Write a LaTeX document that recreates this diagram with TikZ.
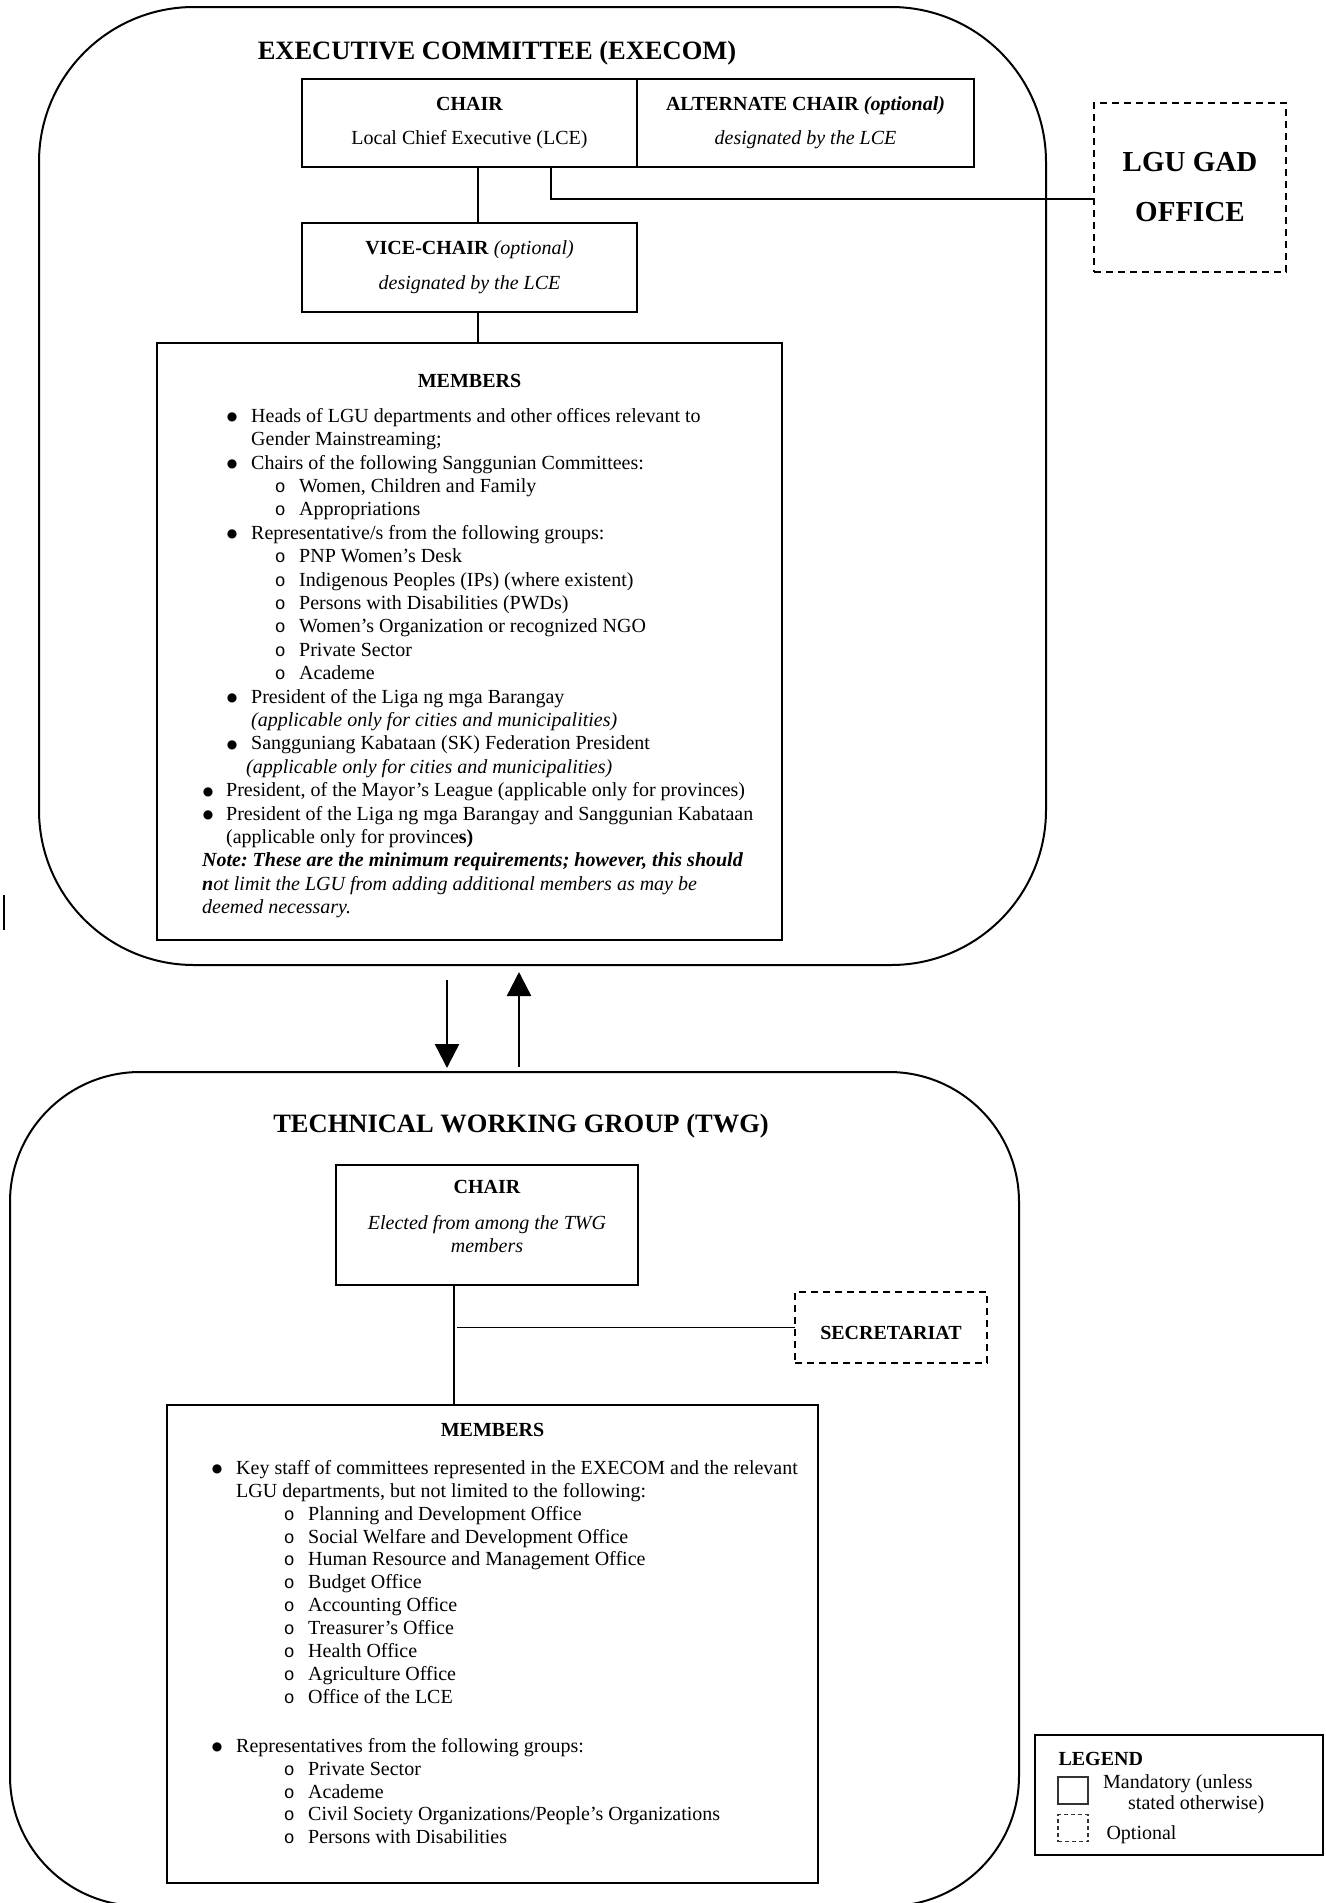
\documentclass[tikz,border=0pt]{standalone}
\usepackage{fontspec}
\setmainfont{Liberation Serif}
\setmonofont{Liberation Mono}
\newfontfamily\symfont{DejaVu Sans}
\usetikzlibrary{shapes, arrows.meta, positioning}
\frenchspacing

\newcommand{\bigdot}{\raisebox{1.5pt}{\symfont\fontsize{12}{12}\selectfont ●}}
\newcommand{\itemdot}[3]{\hspace*{#1}\makebox[0pt]{\bigdot}\hspace*{\dimexpr#2-#1\relax}#3}
\newcommand{\itemring}[3]{\hspace*{#1}\makebox[0pt]{\fontsize{18}{18}\selectfont\texttt{o}}\hspace*{\dimexpr#2-#1\relax}#3}

\begin{document}
\begin{tikzpicture}[x=1pt, y=-1pt,
font=\fontsize{20}{23}\selectfont,
frame/.style={rectangle, draw=black, line width=2pt, inner sep=0pt, outer sep=0pt},
block/.style={rectangle, draw=black, line width=2pt, align=center, inner sep=0pt, outer sep=0pt},
block-opt/.style={block, dash pattern=on 7pt off 5pt},
heading/.style={anchor=base, font=\fontsize{26.5}{30}\selectfont\bfseries},
list/.style={anchor=north west, align=left, inner sep=0pt},
key/.style={rectangle, draw=black!80, line width=1.2pt, minimum width=30pt, minimum height=27pt},
line/.style={draw, line width=1.8pt},
flow/.style={draw, line width=2.5pt, -{Triangle[length=24pt, width=24pt]}}
]
\useasboundingbox (0,0) rectangle (1325,1903);

\node[frame, rounded corners=155pt, minimum width=1007pt, minimum height=958pt] (execom) at (542.5,486) {};
\node[frame, rounded corners=130pt, minimum width=1009pt, minimum height=834pt] (twg) at (514.5,1489) {};

\node[heading] (execom-title) at (497,59) {EXECUTIVE COMMITTEE (EXECOM)};

\node[block, minimum width=335pt, minimum height=88pt] (chair) at (469.5,123)
  {\textbf{CHAIR}\\[11pt]Local Chief Executive (LCE)};
\node[block, minimum width=337pt, minimum height=88pt, right=0pt of chair] (alt-chair)
  {\textbf{ALTERNATE CHAIR \textit{(optional)}}\\[11pt]\textit{designated by the LCE}};
\node[block, minimum width=335pt, minimum height=89pt, below=56pt of chair] (vice-chair)
  {\textbf{VICE-CHAIR} \textit{(optional)}\\[12pt]\textit{designated by the LCE}};
\node[block-opt, minimum width=192pt, minimum height=169pt, font=\fontsize{29}{34}\selectfont\bfseries] (gad-office) at (1190,187.5)
  {LGU GAD\\[16pt]OFFICE};

\node[block, minimum width=625pt, minimum height=597pt, below=31pt of vice-chair] (execom-members) {};
\node[anchor=base, font=\fontsize{20}{23}\selectfont\bfseries] (execom-members-title) at (469.5,387) {MEMBERS};
\node[list, font=\fontsize{20}{23.4}\selectfont] (execom-list) at (202,408) {%
\itemdot{30pt}{49pt}{Heads of LGU departments and other offices relevant to}\\
\hspace*{49pt}Gender Mainstreaming;\\
\itemdot{30pt}{49pt}{Chairs of the following Sanggunian Committees:}\\
\itemring{78pt}{97pt}{Women, Children and Family}\\
\itemring{78pt}{97pt}{Appropriations}\\
\itemdot{30pt}{49pt}{Representative/s from the following groups:}\\
\itemring{78pt}{97pt}{PNP Women’s Desk}\\
\itemring{78pt}{97pt}{Indigenous Peoples (IPs) (where existent)}\\
\itemring{78pt}{97pt}{Persons with Disabilities (PWDs)}\\
\itemring{78pt}{97pt}{Women’s Organization or recognized NGO}\\
\itemring{78pt}{97pt}{Private Sector}\\
\itemring{78pt}{97pt}{Academe}\\
\itemdot{30pt}{49pt}{President of the Liga ng mga Barangay}\\
\hspace*{49pt}\textit{(applicable only for cities and municipalities)}\\
\itemdot{30pt}{49pt}{Sangguniang Kabataan (SK) Federation President}\\
\hspace*{44pt}\textit{(applicable only for cities and municipalities)}\\
\itemdot{6pt}{24pt}{President, of the Mayor’s League (applicable only for provinces)}\\
\itemdot{6pt}{24pt}{President of the Liga ng mga Barangay and Sanggunian Kabataan}\\
\hspace*{24pt}(applicable only for province\textbf{s)}\\
\textbf{\textit{Note: These are the minimum requirements; however, this should}}\\
\textit{\textbf{n}ot limit the LGU from adding additional members as may be}\\
\textit{deemed necessary.}};

\path[line] ([xshift=8.5pt]chair.south) -- ([xshift=8.5pt]vice-chair.north);
\path[line] ([xshift=8.5pt]vice-chair.south) -- ([xshift=8.5pt]execom-members.north);
\path[line] ([xshift=81.5pt]chair.south) |- ([yshift=-11.5pt]gad-office.west);

\draw[line width=2.5pt] (4,895) -- (4,930);

\coordinate (down-x) at (447,0);
\coordinate (up-x) at (519,0);
\path[flow, shorten <=15pt, shorten >=4pt] (execom.south -| down-x) -- (twg.north -| down-x);
\path[flow, shorten <=5pt, shorten >=7pt] (twg.north -| up-x) -- (execom.south -| up-x);

\node[heading] (twg-title) at (521,1132) {TECHNICAL WORKING GROUP (TWG)};

\node[block, minimum width=302pt, minimum height=120pt] (twg-chair) at (487,1225)
  {\textbf{CHAIR}\\[13pt]\textit{Elected from among the TWG}\\\textit{members}\rule[-17pt]{0pt}{17pt}};
\node[block-opt, minimum width=192pt, minimum height=71pt, font=\fontsize{20}{23}\selectfont\bfseries,
  text height=24pt, text depth=0pt] (secretariat) at (891,1327.5) {SECRETARIAT};
\node[block, minimum width=651pt, minimum height=478pt, below=120pt of twg-chair, xshift=5.5pt] (twg-members) {};
\node[anchor=base, font=\fontsize{20}{23}\selectfont\bfseries] (twg-members-title) at (492.5,1436) {MEMBERS};
\node[list, font=\fontsize{20}{22.9}\selectfont] (twg-list) at (200,1460) {%
\itemdot{17pt}{36pt}{Key staff of committees represented in the EXECOM and the relevant}\\
\hspace*{36pt}LGU departments, but not limited to the following:\\
\itemring{89pt}{108pt}{Planning and Development Office}\\
\itemring{89pt}{108pt}{Social Welfare and Development Office}\\
\itemring{89pt}{108pt}{Human Resource and Management Office}\\
\itemring{89pt}{108pt}{Budget Office}\\
\itemring{89pt}{108pt}{Accounting Office}\\
\itemring{89pt}{108pt}{Treasurer’s Office}\\
\itemring{89pt}{108pt}{Health Office}\\
\itemring{89pt}{108pt}{Agriculture Office}\\
\itemring{89pt}{108pt}{Office of the LCE}\\[26pt]
\itemdot{17pt}{36pt}{Representatives from the following groups:}\\
\itemring{89pt}{108pt}{Private Sector}\\
\itemring{89pt}{108pt}{Academe}\\
\itemring{89pt}{108pt}{Civil Society Organizations/People’s Organizations}\\
\itemring{89pt}{108pt}{Persons with Disabilities}};

\coordinate (twg-stem) at ([xshift=-33pt]twg-chair.south);
\path[line] (twg-stem) -- (twg-stem |- twg-members.north);
\path[line, shorten >=3pt] (secretariat.west) -- (secretariat.west -| twg-stem);

\node[block, minimum width=288pt, minimum height=120pt] (legend) at (1179,1795) {};
\node[anchor=base west, font=\fontsize{20}{23}\selectfont\bfseries] (legend-title) at (1055,1765) {LEGEND};
\node[key] (key-mandatory) at (1073,1790.5) {};
\node[key, dash pattern=on 4pt off 3pt] (key-optional) at (1073,1828) {};
\node[list, font=\fontsize{20}{21}\selectfont] (key-mandatory-text) at (1103,1774)
  {Mandatory (unless\\\hspace*{25pt}stated otherwise)};
\node[anchor=base west] (key-optional-text) at (1103,1839.5) {Optional};

\end{tikzpicture}
\end{document}
